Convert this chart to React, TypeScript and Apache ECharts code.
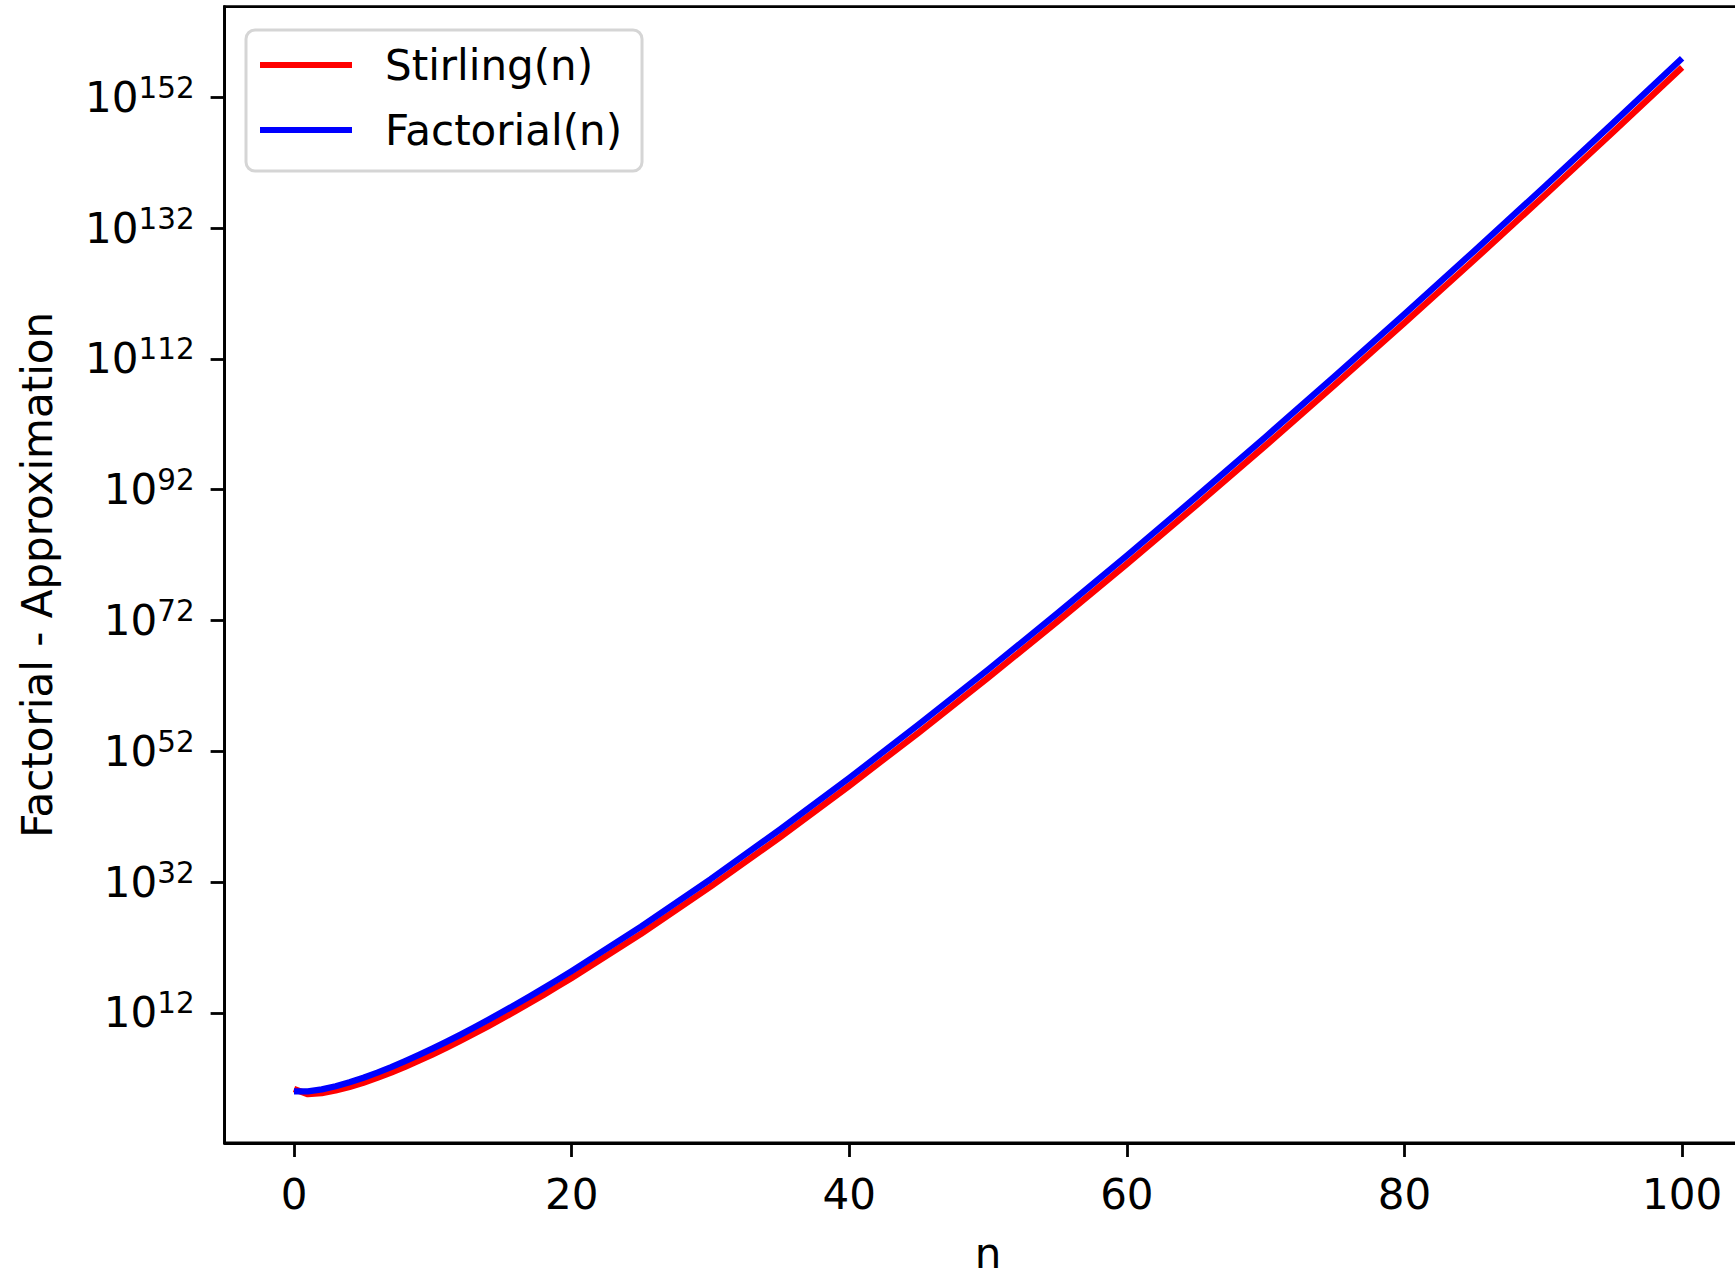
import React, { useEffect, useRef } from "react";
import * as echarts from "echarts";

// n values sampled along the curves
const nValues = [0, 1, 2, 3, 4, 5, 6, 7, 8, 9, 10, 11, 12, 13, 14, 15, 16, 17, 18, 19, 20, 25, 30, 35, 40, 45, 50, 55, 60, 65, 70, 75, 80, 85, 90, 95, 100];
// log10 of Stirling(n)
const stirlingLog10 = [0.35, -0.434, -0.267, 0.129, 0.671, 1.323, 2.063, 2.876, 3.750, 4.680, 5.657, 6.678, 7.739, 8.835, 9.966, 11.127, 12.317, 13.535, 14.778, 16.045, 17.335, 24.091, 31.285, 38.842, 46.711, 54.851, 63.234, 71.834, 80.632, 89.610, 98.757, 108.058, 117.504, 127.086, 136.796, 146.626, 156.571];
// log10 of Factorial(n)
const factorialLog10 = [0, 0, 0.301, 0.778, 1.380, 2.079, 2.857, 3.702, 4.606, 5.560, 6.560, 7.601, 8.680, 9.794, 10.940, 12.117, 13.321, 14.551, 15.806, 17.085, 18.386, 25.191, 32.424, 40.014, 47.912, 56.078, 64.483, 73.104, 81.920, 90.916, 100.078, 109.395, 118.855, 128.450, 138.172, 148.014, 157.970];

const xTicks = [0, 20, 40, 60, 80, 100];
const yTickExponents = [12, 32, 52, 72, 92, 112, 132, 152];
const seriesNames = ["Stirling(n)", "Factorial(n)"];

const FONT = "DejaVu Sans";

export default function App() {
  const ref = useRef<HTMLDivElement>(null);
  useEffect(() => {
    if (!ref.current) return;
    const chart = echarts.init(ref.current, null, { renderer: "svg" });
    const toPairs = (ys: number[]) => nValues.map((n, i) => [n, ys[i]]);
    chart.setOption({
      animation: false,
      backgroundColor: "#ffffff",
      grid: {
        left: 224.6,
        right: -16.5,
        top: 6.6,
        bottom: 133,
        show: true,
        borderColor: "#000",
        borderWidth: 2.8,
        backgroundColor: "transparent",
        containLabel: false,
        outerBoundsMode: "none",
      },
      legend: {
        data: seriesNames,
        orient: "vertical",
        left: 246,
        top: 30,
        icon: "rect",
        itemWidth: 92,
        itemHeight: 6,
        itemGap: 23,
        padding: [14, 20, 20, 14],
        backgroundColor: "#ffffff",
        borderColor: "#d5d5d5",
        borderWidth: 3,
        borderRadius: 9,
        textStyle: {
          fontFamily: FONT,
          fontSize: 42,
          lineHeight: 42,
          color: "#000",
          padding: [0, 0, 0, 28],
        },
      },
      xAxis: {
        type: "value",
        min: -5,
        max: 105,
        name: "n",
        nameLocation: "middle",
        nameGap: 89,
        nameTextStyle: { fontFamily: FONT, fontSize: 42, color: "#000" },
        axisLine: { show: true, onZero: false, lineStyle: { color: "#000", width: 2.8 } },
        axisTick: {
          show: true,
          customValues: xTicks,
          length: 14,
          inside: false,
          lineStyle: { color: "#000", width: 2.8 },
        },
        axisLabel: {
          customValues: xTicks,
          fontFamily: FONT,
          fontSize: 42,
          color: "#000",
          margin: 30,
        },
        splitLine: { show: false },
      },
      yAxis: {
        type: "value",
        min: -7.9,
        max: 165.87,
        name: "Factorial - Approximation",
        nameLocation: "middle",
        nameGap: 166,
        nameTextStyle: { fontFamily: FONT, fontSize: 42, color: "#000" },
        axisLine: { show: true, onZero: false, lineStyle: { color: "#000", width: 2.8 } },
        axisTick: {
          show: true,
          customValues: yTickExponents,
          length: 14,
          inside: false,
          lineStyle: { color: "#000", width: 2.8 },
        },
        axisLabel: {
          customValues: yTickExponents,
          margin: 30,
          formatter: (v: number) => "{b|10}{s|" + Math.round(v) + "}",
          rich: {
            b: { fontFamily: FONT, fontSize: 42, lineHeight: 48, color: "#000" },
            s: { fontFamily: FONT, fontSize: 29.4, lineHeight: 29.4, verticalAlign: "top", color: "#000" },
          },
        },
        splitLine: { show: false },
      },
      series: [
        {
          name: seriesNames[0],
          type: "line",
          data: toPairs(stirlingLog10),
          symbol: "none",
          showSymbol: false,
          smooth: false,
          lineStyle: { color: "#ff0000", width: 6.3, join: "round", cap: "butt" },
          itemStyle: { color: "#ff0000" },
          z: 2,
        },
        {
          name: seriesNames[1],
          type: "line",
          data: toPairs(factorialLog10),
          symbol: "none",
          showSymbol: false,
          smooth: false,
          lineStyle: { color: "#0000ff", width: 6.3, join: "round", cap: "butt" },
          itemStyle: { color: "#0000ff" },
          z: 3,
        },
      ],
    });
    return () => chart.dispose();
  }, []);
  return (
    <div
      ref={ref}
      style={{ position: "fixed", left: 0, top: 0, width: 1735, height: 1276, background: "#fff" }}
    />
  );
}
